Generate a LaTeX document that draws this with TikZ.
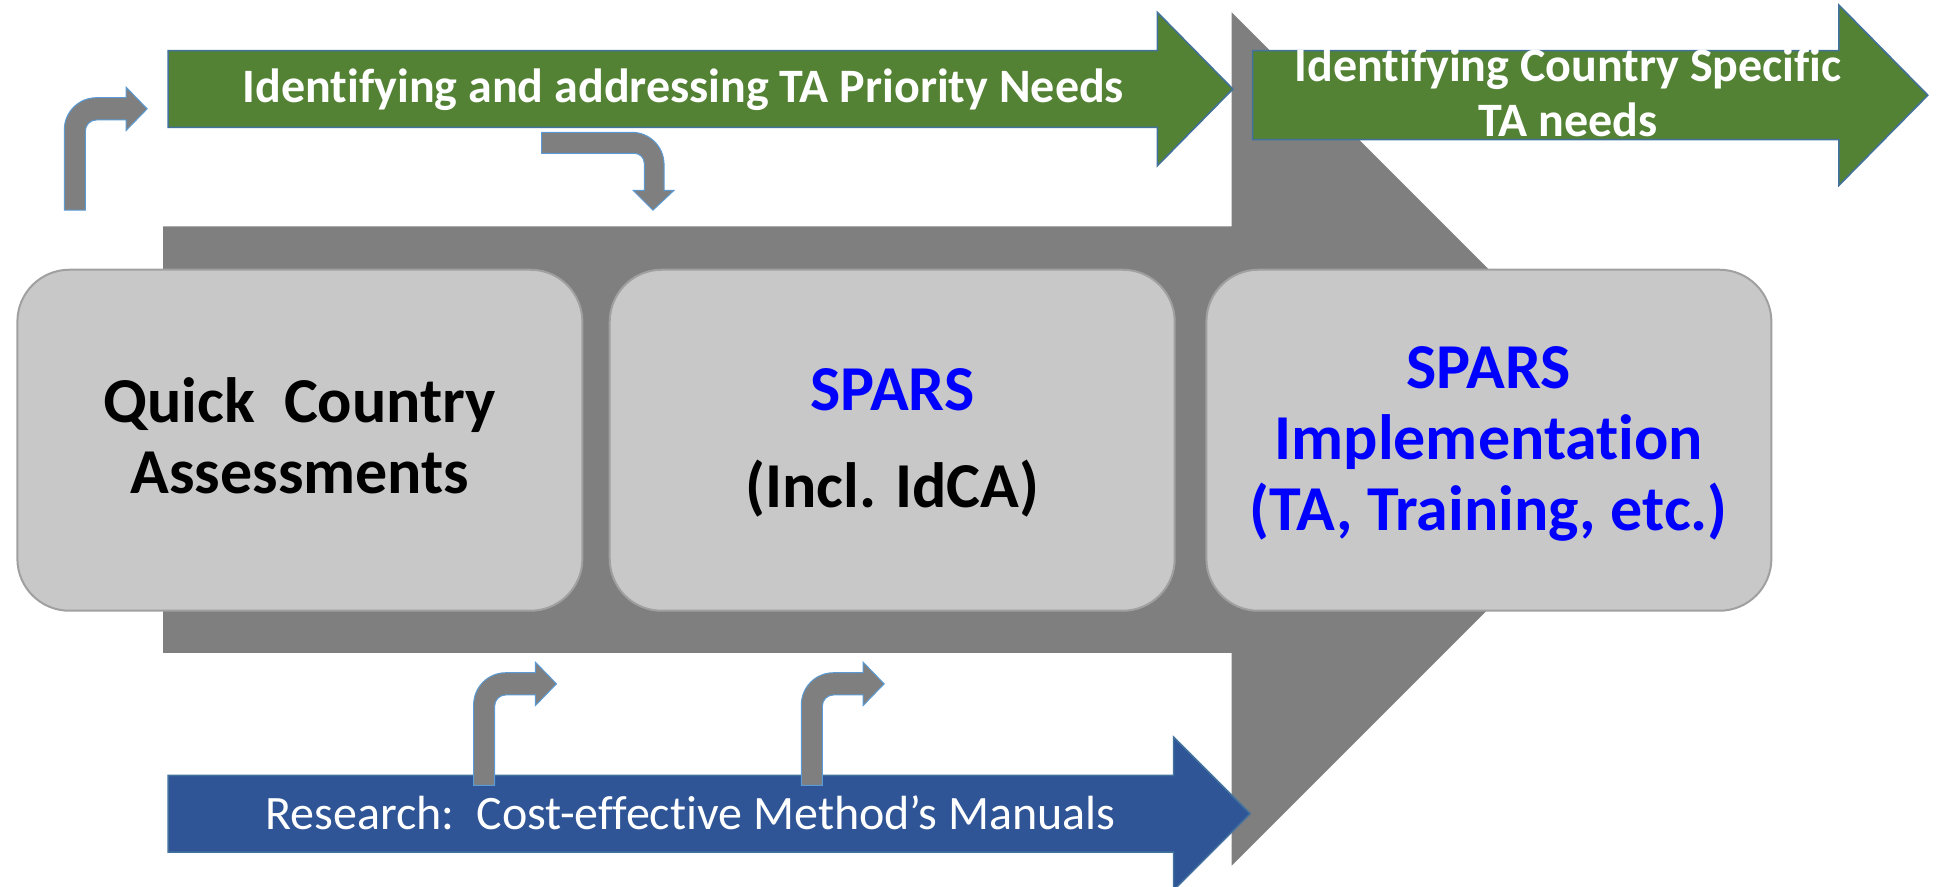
\documentclass[tikz,border=0pt]{standalone}
\usepackage{fontspec}
\setmainfont{Carlito}[Ligatures = NoCommon]
\definecolor{grayarrow}{HTML}{7F7F7F}
\definecolor{taGreen}{HTML}{548235}
\definecolor{edgeBlue}{HTML}{41719C}
\definecolor{resBlue}{HTML}{2F5597}
\definecolor{cardFill}{HTML}{C8C8C8}
\definecolor{cardEdge}{HTML}{A0A0A0}
\definecolor{bendEdge}{HTML}{5B9BD5}
\definecolor{sparsBlue}{HTML}{0000FF}
\tikzset{bentup/.pic = {
	\filldraw[bentfill] (0,0) -- (0,-65) .. controls (0,-79.4) and (11.6,-91) .. (26,-91) -- (50,-91) -- (50,-99.5) -- (67,-82) -- (50,-64.5) -- (50,-73) -- (26,-73) .. controls (21,-73) and (17,-69) .. (17,-64) -- (17,0) -- cycle;
}}

\begin{document}
\begin{tikzpicture}[x = 1.2366pt, y = -1.2366pt,
	card/.style = {draw = cardEdge, line width = 2pt, fill = cardFill, rounded corners = 52pt, minimum width = 565pt, minimum height = 341pt, inner sep = 0pt},
	cardtext/.style = {inner sep = 0pt, align = center, anchor = base, font = \fontsize{64}{71}\selectfont\bfseries},
	band/.style = {draw = edgeBlue, line width = 1.5pt},
	bandtext/.style = {text = white, inner sep = 0pt, align = center, anchor = base, font = \fontsize{48}{55}\selectfont\bfseries},
	bentfill/.style = {fill = grayarrow, draw = bendEdge, line width = 1pt}]
	\useasboundingbox (0,0) rectangle (1568,717);
	\fill[grayarrow] (132,183) -- (996,183) -- (996,10) -- (1341,355) -- (996,700) -- (996,528) -- (132,528) -- cycle;
	\draw[band, fill = taGreen] (136,41) -- (936,41) -- (936,10) -- (997,72) -- (936,134) -- (936,103) -- (136,103) -- cycle;
	\draw[band, fill = taGreen] (1013,41) -- (1487,41) -- (1487,4) -- (1559,77) -- (1487,150) -- (1487,113) -- (1013,113) -- cycle;
	\draw[band, fill = resBlue] (136,627) -- (949,627) -- (949,596) -- (1011,658) -- (949,720) -- (949,689) -- (136,689) -- cycle;
	\node[bandtext] (needs) at (552.5,83) {Identifying and addressing TA Priority Needs};
	\node[bandtext] (country) at (1268,110) {Identifying Country Specific\\TA needs};
	\node[bandtext, font = \fontsize{48}{55}\selectfont] (research) at (558.5,671) {Research:\ \ Cost-effective Method’s Manuals};
	\node[card] (quick) at (242.5,356) {};
	\node[card] (spars) at (721.5,356) {};
	\node[card] (impl) at (1204,356) {};
	\node[cardtext] (quicktext) at (242.5,399) {Quick\ \ Country\\Assessments};
	\node[cardtext] (sparstext) at (721.5,410) {\textcolor{sparsBlue}{SPARS}\\[26pt](Incl. IdCA)};
	\node[cardtext, text = sparsBlue] (impltext) at (1204,429) {SPARS\\Implementation\\(TA, Training, etc.)};
	\pic at (52,170) {bentup};
	\foreach \x in {383,648}
	\pic at (\x,635) {bentup};
	\filldraw[bentfill] (438,107) -- (511,107) .. controls (525.4,107) and (537,118.6) .. (537,133) -- (537,154) -- (545,154) -- (528,170) -- (512,154) -- (521,154) -- (521,132) .. controls (521,127.6) and (517.4,124) .. (513,124) -- (438,124) -- cycle;
\end{tikzpicture}
\end{document}
